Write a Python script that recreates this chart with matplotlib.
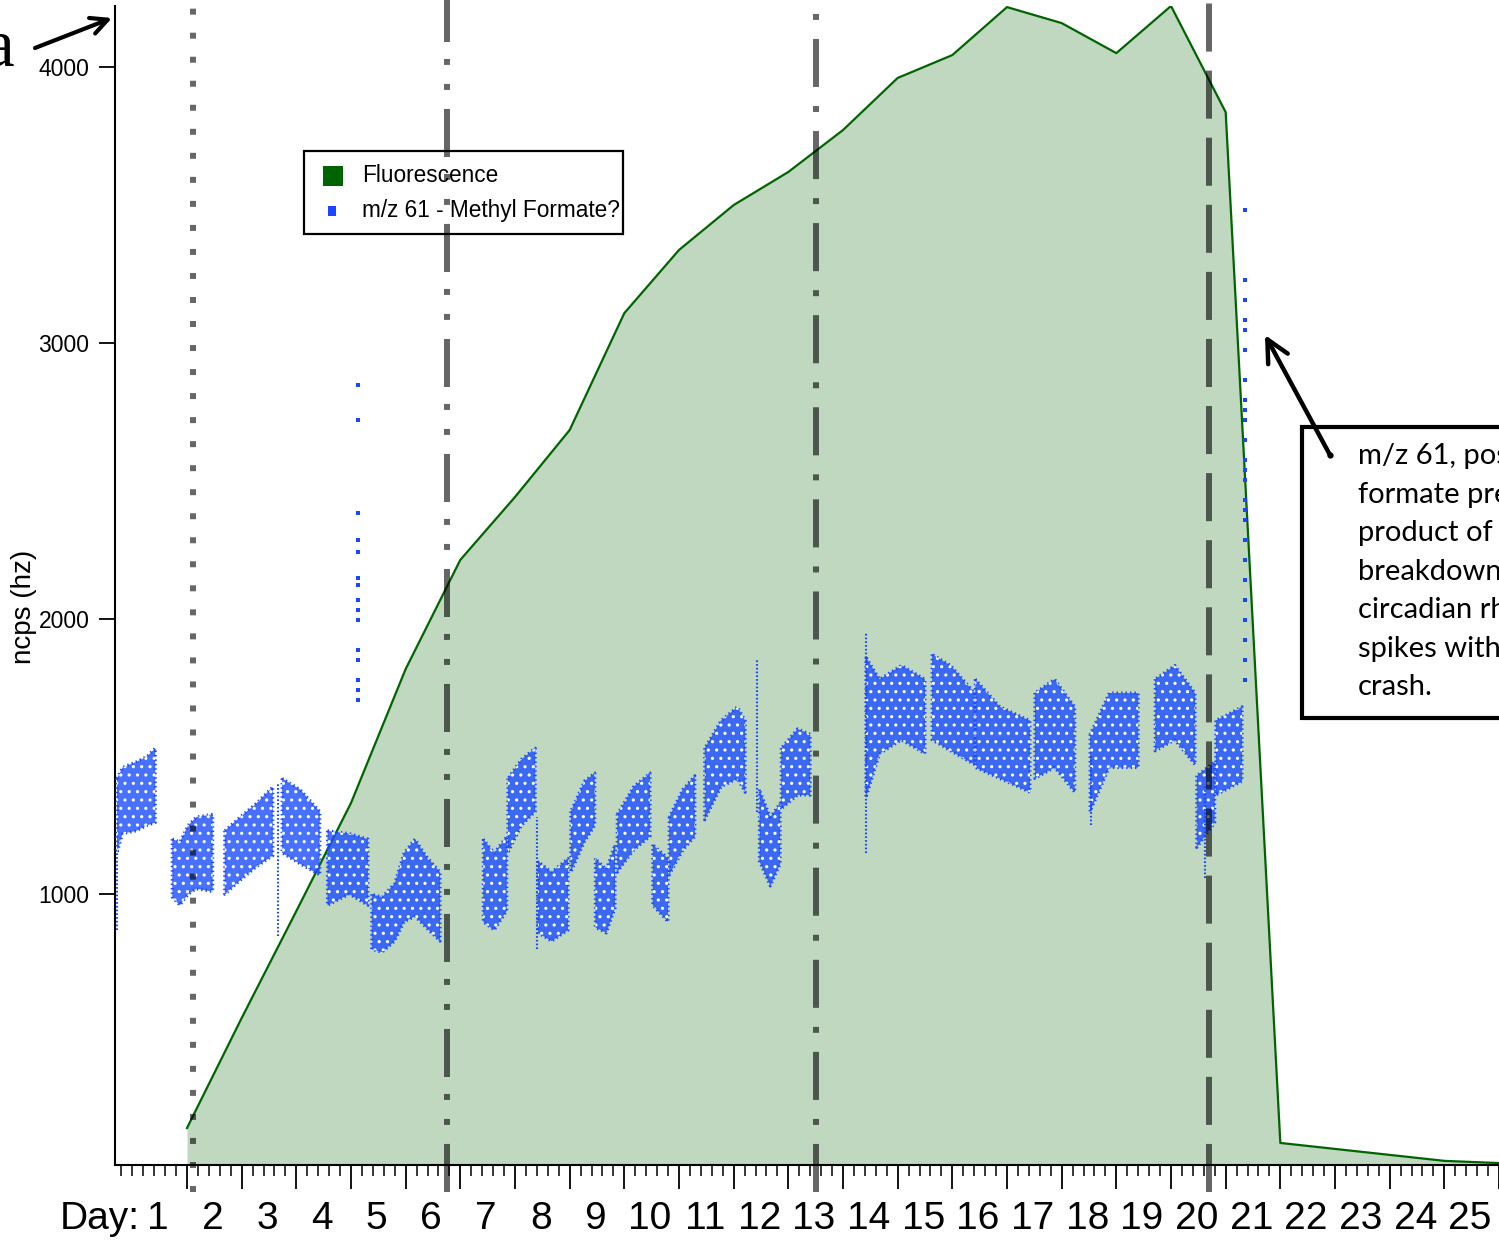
import numpy as np
import matplotlib
matplotlib.use('Agg')
import matplotlib.pyplot as plt
from matplotlib.patches import Rectangle, FancyArrowPatch
from matplotlib import font_manager

# fonts: a condensed sans if there is one, else Liberation Sans
names = {f.name for f in font_manager.fontManager.ttflist}
narrow = 'Liberation Sans Narrow' if 'Liberation Sans Narrow' in names else 'Liberation Sans'
plt.rcParams['font.family'] = [narrow, 'DejaVu Sans']
plt.rcParams['lines.scale_dashes'] = False
plt.rcParams['hatch.linewidth'] = 1.1

# fluorescence, one reading per day
fl_day = [1.53, 2.53, 3.53, 4.53, 5.53, 6.53, 7.53, 8.53, 9.53, 10.53, 11.53,
          12.53, 13.53, 14.53, 15.53, 16.53, 17.53, 18.53, 19.53, 20.53, 21.53,
          24.53, 25.53]
fl_val = [152, 551, 939, 1331, 1817, 2213, 2441, 2684, 3108, 3337, 3500,
          3620, 3772, 3961, 4044, 4218, 4160, 4051, 4222, 3837, 98,
          33, 25]

# m/z 61 point clouds: day, lower and upper edge of the dense part (None = gap)
mz_day = [0.25, 0.35, 0.6, 0.8, 0.95, None,
          1.26, 1.4, 1.55, 1.7, 2.0, None,
          2.22, 2.5, 2.8, 3.1, None,
          3.27, 3.6, 3.96, None,
          4.1, 4.5, 4.84, None,
          4.91, 5.1, 5.33, 5.5, 5.7, 5.9, 6.16, None,
          6.95, 7.15, 7.38, None,
          7.4, 7.65, 7.9, None,
          7.95, 8.2, 8.5, None,
          8.55, 8.8, 8.99, None,
          9.0, 9.2, 9.36, None,
          9.4, 9.7, 10.0, None,
          10.05, 10.33, None,
          10.35, 10.6, 10.82, None,
          11.0, 11.3, 11.6, 11.74, None,
          12.0, 12.2, 12.38, None,
          12.4, 12.7, 12.93, None,
          13.95, 14.2, 14.6, 15.03, None,
          15.16, 15.5, 15.94, None,
          15.95, 16.4, 16.95, None,
          17.04, 17.4, 17.77, None,
          18.05, 18.4, 18.93, None,
          19.24, 19.6, 19.97, None,
          20.0, 20.33, None,
          20.35, 20.83]
mz_lo = [1150, 1220, 1230, 1250, 1260, None,
         990, 960, 1000, 1020, 1010, None,
         1000, 1050, 1100, 1140, None,
         1150, 1110, 1070, None,
         960, 1000, 960, None,
         800, 790, 830, 900, 920, 880, 830, None,
         900, 870, 940, None,
         1150, 1250, 1300, None,
         860, 830, 870, None,
         1080, 1190, 1250, None,
         880, 860, 950, None,
         1080, 1160, 1210, None,
         960, 900, None,
         1070, 1160, 1210, None,
         1270, 1390, 1420, 1370, None,
         1120, 1030, 1110, None,
         1310, 1360, 1360, None,
         1350, 1510, 1560, 1510, None,
         1560, 1520, 1470, None,
         1460, 1420, 1370, None,
         1420, 1460, 1370, None,
         1300, 1460, 1460, None,
         1520, 1560, 1470, None,
         1170, 1260, None,
         1360, 1410]
mz_hi = [1420, 1460, 1480, 1500, 1530, None,
         1200, 1190, 1250, 1280, 1290, None,
         1230, 1280, 1330, 1390, None,
         1420, 1380, 1300, None,
         1230, 1220, 1200, None,
         1000, 990, 1040, 1150, 1200, 1140, 1080, None,
         1200, 1150, 1210, None,
         1420, 1490, 1530, None,
         1120, 1080, 1130, None,
         1300, 1410, 1440, None,
         1130, 1090, 1180, None,
         1290, 1390, 1440, None,
         1180, 1130, None,
         1280, 1380, 1430, None,
         1530, 1630, 1680, 1630, None,
         1380, 1280, 1330, None,
         1530, 1600, 1580, None,
         1860, 1780, 1830, 1780, None,
         1870, 1830, 1730, None,
         1780, 1680, 1630, None,
         1730, 1780, 1680, None,
         1580, 1730, 1730, None,
         1780, 1830, 1730, None,
         1430, 1480, None,
         1630, 1680]

# thin vertical streaks of points
streak_day = [0.25, 3.19, 7.93, 11.96, 13.95, 18.07, 20.16]
streak_lo = [870, 850, 800, 1300, 1150, 1250, 1060]
streak_hi = [1150, 1400, 1280, 1850, 1950, 1500, 1400]

# isolated high readings
spike_day = [4.66] * 15 + [20.88] * 25
spike_val = [2847, 2720, 2383, 2285, 2242, 2147, 2122, 2067, 2031, 1995,
             1886, 1850, 1777, 1741, 1705,
             3482, 3228, 3156, 3083, 3047, 2974, 2865, 2793, 2756, 2720,
             2648, 2575, 2539, 2502, 2430, 2394, 2357, 2285, 2212, 2140,
             2067, 1995, 1922, 1850, 1777]

# phase boundaries
phase_day = [1.64, 6.286, 13.036, 20.224]
phase_dash = [(0, (4.3, 13.0)),
              (0, (34.6, 13.7, 4.3, 13.7, 4.3, 12.2)),
              (0, (34.6, 13.7, 4.3, 13.7)),
              (0, (34.6, 13.7))]

day_labels = list(range(1, 26))

blue = '#1a46ff'
green = '#006400'

fig = plt.figure(figsize=(14.99, 12.42), dpi=100)
ax = fig.add_axes([115 / 1499, 1 - 1165 / 1242, 1384 / 1499, 1159 / 1242])

ax.fill_between(fl_day, fl_val, 0, color=green, alpha=0.25, lw=0, zorder=1)
ax.plot(fl_day, fl_val, color=green, lw=1.6, zorder=2)

d = np.array(mz_day, dtype=float)
lo = np.array(mz_lo, dtype=float)
hi = np.array(mz_hi, dtype=float)
# speckled rim, then the dense core with small gaps
ax.fill_between(d, lo, hi, facecolor='none', edgecolor=blue,
                linewidth=2.2, linestyle=(0, (1.0, 2.2)), zorder=3)
ax.fill_between(d, lo, hi, facecolor=(0.1, 0.3, 1.0, 0.8), edgecolor='white',
                hatch='..', linewidth=0, zorder=3)
ax.vlines(streak_day, streak_lo, streak_hi, color=blue, lw=1.5,
          linestyles=(0, (1.2, 1.5)), zorder=3)
ax.scatter(spike_day, spike_val, s=5, marker='s', color=blue, lw=0, zorder=3)

for x, ls in zip(phase_day, phase_dash):
    ax.axvline(x, ymin=-0.0233, ymax=1.01, color='black', alpha=0.6, lw=4.3,
               linestyle=ls, dash_capstyle='butt', clip_on=False, zorder=6)

ax.set_xlim(0.213, 25.53)
ax.set_ylim(18, 4222)
for s in ['top', 'right']:
    ax.spines[s].set_visible(False)
ax.spines['left'].set_linewidth(1.5)
ax.spines['bottom'].set_linewidth(1.5)

ax.set_yticks([1000, 2000, 3000, 4000])
ax.set_yticklabels(['1000', '2000', '3000', '4000'], fontsize=16.5)
ax.tick_params(axis='y', length=11.5, width=1.3, pad=7)
ax.set_xticks(np.arange(1.53, 25.6, 1.0))
ax.set_xticks(np.arange(0.33, 25.6, 0.2), minor=True)
ax.set_xticklabels([])
ax.tick_params(axis='x', which='major', length=17, width=1.3, direction='out')
ax.tick_params(axis='x', which='minor', length=8, width=1.1, direction='out')

tr = ax.get_xaxis_transform()
for dl in day_labels:
    ax.text(dl, -0.047, str(dl), transform=tr, ha='center', va='center',
            fontsize=28)
ax.text(0.66, -0.047, 'Day:', transform=tr, ha='right', va='center',
        fontsize=28)

fig.text(24 / 1499, 1 - 607 / 1242, 'ncps (hz)', rotation=90,
         family='Liberation Sans', fontsize=20, ha='center', va='center')

# legend drawn by hand so the phase lines run over it
ax.add_artist(Rectangle((304, 1242 - 234), 319, 83, transform=None,
                        facecolor='white', edgecolor='black', lw=1.6, zorder=4))
ax.add_artist(Rectangle((323, 1242 - 186), 20, 20, transform=None,
                        facecolor=green, edgecolor='none', zorder=5))
ax.add_artist(Rectangle((328, 1242 - 216), 8, 10, transform=None,
                        facecolor=blue, edgecolor='none', zorder=5))
ax.text(362, 1242 - 176, 'Fluorescence', transform=None, fontsize=16.3,
        ha='left', va='center', zorder=5)
ax.text(362, 1242 - 211, 'm/z 61 - Methyl Formate?', transform=None,
        fontsize=16.3, ha='left', va='center', zorder=5)

# callout box on the right
fig.add_artist(Rectangle((1302 / 1499, 1 - 718 / 1242), 0.2, 291 / 1242,
                         transform=fig.transFigure, facecolor='white',
                         edgecolor='black', lw=3, zorder=1))
note = ['m/z 61, possible methyl', 'formate precursor or', 'product of cell',
        'breakdown; follows', 'circadian rhythm and', 'spikes with culture',
        'crash.']
for i, line in enumerate(note):
    fig.text(1358 / 1499, 1 - (456 + 38.5 * i) / 1242, line, family='Lato',
             fontsize=21, ha='left', va='center', zorder=2)
fig.add_artist(FancyArrowPatch((1330, 1242 - 455), (1265, 1242 - 335),
                               transform=None, arrowstyle='->', lw=3.2,
                               color='black', mutation_scale=40,
                               shrinkA=0, shrinkB=0, zorder=3))
fig.add_artist(plt.Line2D([1330], [1242 - 455], transform=None, marker='o',
                          ms=3.5, color='black', zorder=3))

# panel letter
fig.text(14 / 1499, 1 - 65 / 1242, 'a', family='Liberation Serif',
         fontsize=48, ha='right', va='baseline')
fig.add_artist(FancyArrowPatch((35, 1242 - 48), (112, 1242 - 18),
                               transform=None, arrowstyle='->', lw=3,
                               color='black', mutation_scale=30,
                               shrinkA=0, shrinkB=0, zorder=3))

fig.savefig('out.png', dpi=100, facecolor='white')
